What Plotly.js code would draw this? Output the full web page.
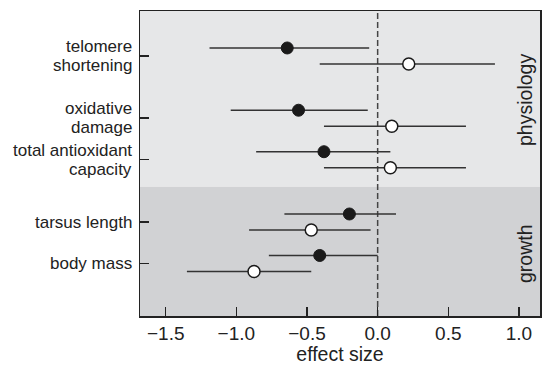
<!DOCTYPE html>
<html>
<head>
<meta charset="utf-8">
<script src="https://cdn.plot.ly/plotly-3.0.1.min.js"></script>
<style>html,body{margin:0;padding:0;background:#fff;}#chart{width:545px;height:365px;}</style>
</head>
<body>
<div id="chart"></div>
<script>
// categories (top to bottom), each split into its text lines, and their row positions
const categories = [["telomere", "shortening"], ["oxidative", "damage"], ["total antioxidant", "capacity"], ["tarsus length"], ["body mass"]];
const rowPos = [1, 2.5, 3.5, 5, 6];

// filled series
const filledEst = [-0.64, -0.56, -0.38, -0.20, -0.41];
const filledLo  = [-1.19, -1.04, -0.86, -0.66, -0.77];
const filledHi  = [-0.06, -0.07, 0.09, 0.13, 0.00];

// open series
const openEst = [0.22, 0.10, 0.09, -0.47, -0.875];
const openLo  = [-0.41, -0.38, -0.38, -0.91, -1.35];
const openHi  = [0.83, 0.625, 0.625, -0.05, -0.47];

const xTicks = [-1.5, -1.0, -0.5, 0.0, 0.5, 1.0];
const xTickText = ["\u22121.5", "\u22121.0", "\u22120.5", "0.0", "0.5", "1.0"];

const sections = ["physiology", "growth"];

const off = 0.193;
const filledY = rowPos.map(p => p - off);
const openY = rowPos.map(p => p + off);

const errCol = '#333333';
const traces = [
  {
    x: filledEst, y: filledY, type: 'scatter', mode: 'markers',
    marker: {size: 12, color: '#1a1a1a', line: {color: '#1a1a1a', width: 1}},
    error_x: {type: 'data', symmetric: false,
      array: filledHi.map((h, i) => h - filledEst[i]),
      arrayminus: filledEst.map((e, i) => e - filledLo[i]),
      color: errCol, thickness: 1.5, width: 0},
    showlegend: false, hoverinfo: 'skip'
  },
  {
    x: openEst, y: openY, type: 'scatter', mode: 'markers',
    marker: {size: 12, color: '#ffffff', line: {color: '#1a1a1a', width: 1.5}},
    error_x: {type: 'data', symmetric: false,
      array: openHi.map((h, i) => h - openEst[i]),
      arrayminus: openEst.map((e, i) => e - openLo[i]),
      color: errCol, thickness: 1.5, width: 0},
    showlegend: false, hoverinfo: 'skip'
  }
];

const yTop = -0.084, yBot = 7.265, boundary = 4.15;
const fontFam = 'Liberation Sans, Arial, sans-serif';

// y category labels as annotations (one per text line, tight line spacing)
const lineGap = 19;
const labelAnns = [];
categories.forEach((lines, i) => {
  const n = lines.length;
  lines.forEach((ln, j) => {
    const shift = (j - (n - 1) / 2) * lineGap;
    labelAnns.push({
      text: ln, xref: 'paper', yref: 'y', x: 0, y: rowPos[i],
      xanchor: 'right', yanchor: 'middle', xshift: -7, yshift: -shift,
      borderpad: 0, showarrow: false, font: {size: 17, color: '#222', family: fontFam}
    });
  });
});

const layout = {
  width: 545, height: 365,
  margin: {l: 140, r: 5, t: 11, b: 49},
  paper_bgcolor: '#ffffff',
  plot_bgcolor: 'rgba(0,0,0,0)',
  font: {family: fontFam, color: '#222', size: 17},
  xaxis: {
    range: [-1.682, 1.149], tickvals: xTicks, ticktext: xTickText,
    ticks: 'inside', ticklen: 9, tickwidth: 1.5, tickcolor: '#222',
    showline: true, linecolor: '#222', linewidth: 1.5, mirror: true,
    showgrid: false, zeroline: false,
    tickfont: {size: 19},
    title: {text: 'effect size', font: {size: 19.5}, standoff: 2}
  },
  yaxis: {
    range: [yBot, yTop], tickvals: rowPos, showticklabels: false,
    ticks: 'inside', ticklen: 9, tickwidth: 1.5, tickcolor: '#222',
    showline: true, linecolor: '#222', linewidth: 1.5, mirror: true,
    showgrid: false, zeroline: false
  },
  shapes: [
    {type: 'rect', xref: 'paper', yref: 'y', x0: 0, x1: 1, y0: yTop, y1: boundary,
     fillcolor: '#e6e7e8', line: {width: 0}, layer: 'below'},
    {type: 'rect', xref: 'paper', yref: 'y', x0: 0, x1: 1, y0: boundary, y1: yBot,
     fillcolor: '#d1d2d4', line: {width: 0}, layer: 'below'},
    {type: 'line', xref: 'x', yref: 'paper', x0: 0, x1: 0, y0: 0, y1: 1,
     line: {color: '#444', width: 1.5, dash: '6px,3px'}, layer: 'below'}
  ],
  annotations: labelAnns.concat([
    {text: sections[0], xref: 'paper', yref: 'y', x: 0.9625, y: 1.0 + (100 - 56) / 41.5,
     xanchor: 'center', yanchor: 'middle',
     textangle: -90, showarrow: false, font: {size: 19.5, color: '#222'}},
    {text: sections[1], xref: 'paper', yref: 'y', x: 0.9625, y: 1.0 + (254 - 56) / 41.5,
     xanchor: 'center', yanchor: 'middle',
     textangle: -90, showarrow: false, font: {size: 19.5, color: '#222'}}
  ])
};

Plotly.newPlot('chart', traces, layout, {displayModeBar: false, staticPlot: true});
</script>
</body>
</html>
